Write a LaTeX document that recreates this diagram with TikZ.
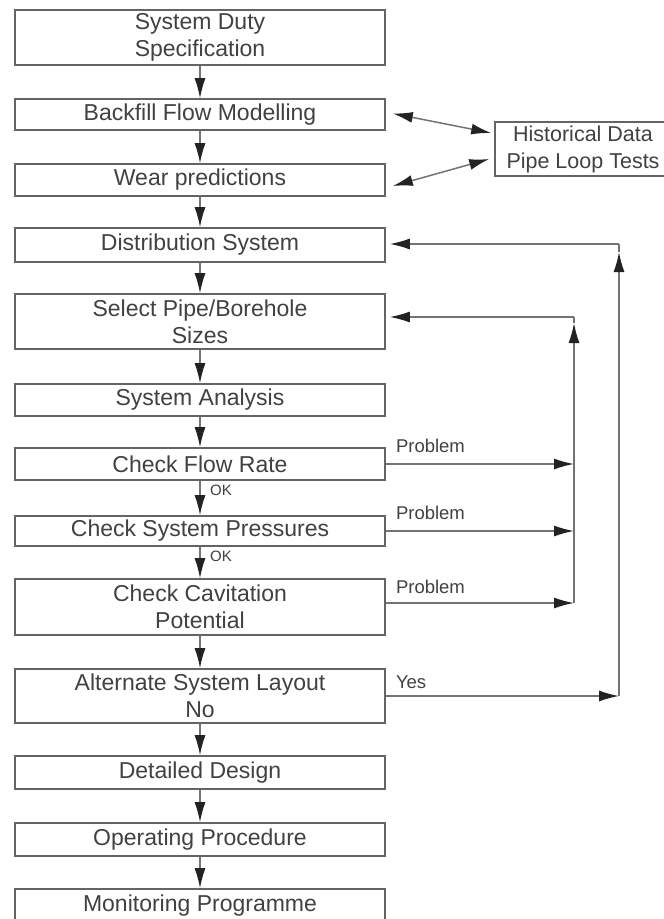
\documentclass[tikz,border=0pt]{standalone}
\usepackage{fontspec}
\setmainfont{Liberation Sans}
\usetikzlibrary{arrows.meta,calc}
\definecolor{boxc}{RGB}{100,100,100}
\definecolor{linec}{RGB}{115,115,115}
\definecolor{txt}{RGB}{65,65,65}
\definecolor{tipc}{RGB}{35,35,35}
\begin{document}
\begin{tikzpicture}[x=1pt,y=-1pt,
  box/.style={draw=boxc, line width=1.6pt, minimum width=370pt, inner sep=0pt,
    align=center, text=txt, font=\fontsize{23}{27}\selectfont},
  conn/.style={draw=linec, line width=1.5pt},
  tipk/.tip={Latex[length=20pt,width=11pt,color=tipc]},
  arr/.style={conn, -tipk},
  darr/.style={conn, tipk-tipk},
  lab/.style={text=txt, font=\fontsize{18.5}{21}\selectfont, inner sep=0pt},
  oklab/.style={text=txt, font=\fontsize{15}{17}\selectfont, inner sep=0pt}]
\fill[white] (0,0) rectangle (664,919);
\clip (0,0) rectangle (664,919);
% main boxes
\node[box, minimum height=55pt] (b1) at (200,37.5) {System Duty\\Specification};
\node[box, minimum height=31pt] (b2) at (200,114.5) {Backfill Flow Modelling};
\node[box, minimum height=32pt] (b3) at (200,180) {Wear predictions};
\node[box, minimum height=34pt] (b4) at (200,245) {Distribution System};
\node[box, minimum height=55pt] (b5) at (200,321.5) {Select Pipe/Borehole\\Sizes};
\node[box, minimum height=32pt] (b6) at (200,400) {System Analysis};
\node[box, minimum height=32pt] (b7) at (200,464) {Check Flow Rate};
\node[box, minimum height=30pt] (b8) at (200,531) {Check System Pressures};
\node[box, minimum height=56pt] (b9) at (200,607) {Check Cavitation\\Potential};
\node[box, minimum height=54pt] (b10) at (200,696) {Alternate System Layout\\No};
\node[box, minimum height=33pt] (b11) at (200,772.5) {Detailed Design};
\node[box, minimum height=33pt] (b12) at (200,839.5) {Operating Procedure};
\node[box, minimum height=34pt] (b13) at (200,906) {Monitoring Programme};
% side box
\node[box, minimum width=176pt, minimum height=54pt, font=\fontsize{21.5}{27}\selectfont] (hist) at (583,149) {Historical Data\\Pipe Loop Tests};
% down arrows
\foreach \a/\b in {b1/b2,b2/b3,b3/b4,b4/b5,b5/b6,b6/b7,b7/b8,b8/b9,b9/b10,b10/b11,b11/b12,b12/b13}
  \draw[arr] (\a) -- (\b);
% data arrows
\draw[darr] ($(b2.east)+(7,-1)$) -- ($(hist.west)+(-3,-16)$);
\draw[darr] ($(b3.east)+(7,6)$) -- ($(hist.west)+(-5,10)$);
% inner loop
\coordinate (iv) at (574,0);
\coordinate (i2) at (574,317);
\coordinate (i3) at (574,323);
\coordinate (p9) at ($(b9.east)+(0,-4)$);
\draw[arr] (b7.east) -- (b7.east -| iv);
\draw[arr] (b8.east) -- (b8.east -| iv);
\draw[arr] (p9) -- (p9 -| iv);
\draw[arr] (p9 -| iv) -- (i3);
\draw[conn] (i3) -- (i2);
\draw[arr, shorten >=4pt] (i2) -- (i2 -| b5.east);
\node[lab, anchor=base west] (l7) at ($(b7.east)+(10,-12)$) {Problem};
\node[lab, anchor=base west] (l8) at ($(b8.east)+(10,-12)$) {Problem};
\node[lab, anchor=base west] (l9) at ($(p9)+(10,-10)$) {Problem};
% outer loop
\coordinate (o1) at (619,696);
\coordinate (o2) at (619,244);
\coordinate (o3) at (619,252);
\draw[arr] (b10.east) -- (o1);
\draw[arr] (o1) -- (o3);
\draw[conn] (o3) -- (o2);
\draw[arr, shorten >=4pt] (o2) -- (o2 -| b4.east);
\node[lab, anchor=base west] (ly) at ($(b10.east)+(10,-8)$) {Yes};
% OK labels
\node[oklab, anchor=west] (ok1) at ($(b7.south)+(10,10)$) {OK};
\node[oklab, anchor=west] (ok2) at ($(b8.south)+(10,10)$) {OK};
\end{tikzpicture}
\end{document}
